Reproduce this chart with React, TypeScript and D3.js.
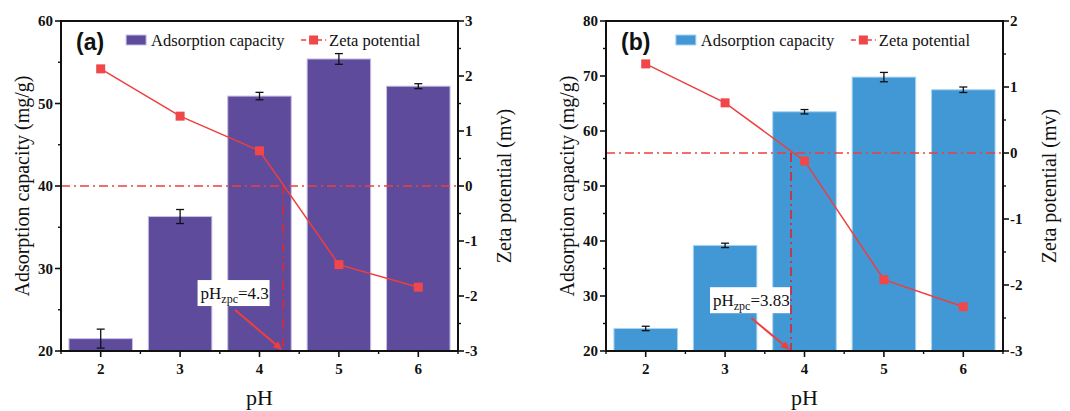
import React from "react";
import * as d3 from "d3";

// ---------- data ----------
const pHValues = [2, 3, 4, 5, 6];
const xTickLabels = ["2", "3", "4", "5", "6"];

const capacityA = [21.5, 36.3, 50.9, 55.4, 52.1];
const capacityErrA = [1.15, 0.85, 0.45, 0.65, 0.3];
const zetaA = [2.13, 1.27, 0.64, -1.43, -1.84];
const pHzpcA = 4.3;
const leftTicksA = [20, 30, 40, 50, 60];
const rightTicksA = [-3, -2, -1, 0, 1, 2, 3];

const capacityB = [24.1, 39.2, 63.5, 69.8, 67.5];
const capacityErrB = [0.4, 0.4, 0.4, 0.85, 0.5];
const zetaB = [1.35, 0.76, -0.12, -1.92, -2.33];
const pHzpcB = 3.83;
const leftTicksB = [20, 30, 40, 50, 60, 70, 80];
const rightTicksB = [-3, -2, -1, 0, 1, 2];

const legendBar = "Adsorption capacity";
const legendLine = "Zeta potential";
const yLeftTitle = "Adsorption capacity (mg/g)";
const yRightTitle = "Zeta potential (mv)";
const xTitle = "pH";

const SERIF = "'Liberation Serif', 'Times New Roman', serif";
const SANS = "'Liberation Sans', Arial, sans-serif";
const RED = "#ee3e3e";
const MARKER = "#f0474a";

interface PanelProps {
  x0: number;
  label: string;
  capacity: number[];
  err: number[];
  zeta: number[];
  pHzpc: number;
  leftTicks: number[];
  rightTicks: number[];
  barColor: string;
  barStroke: string;
  boxAt: [number, number];
  arrowFrom: [number, number];
  legendX: number;
  zpcLabel: string;
  boxW: number;
}

function Panel(p: PanelProps) {
  const left = p.x0;
  const width = 397;
  const top = 21;
  const bottom = 351;
  const right = left + width;
  const x = d3.scaleLinear().domain([1.5, 6.5]).range([left, right]);
  const yl = d3
    .scaleLinear()
    .domain([p.leftTicks[0], p.leftTicks[p.leftTicks.length - 1]])
    .range([bottom, top]);
  const yr = d3
    .scaleLinear()
    .domain([p.rightTicks[0], p.rightTicks[p.rightTicks.length - 1]])
    .range([bottom, top]);

  const leftMinor = d3.range(p.leftTicks[0] + 5, p.leftTicks[p.leftTicks.length - 1], 10);
  const rightMinor = d3.range(p.rightTicks[0] + 0.5, p.rightTicks[p.rightTicks.length - 1], 1);
  const xMinor = d3.range(1.5, 6.6, 1);

  const line = d3
    .line<number>()
    .x((_, i) => x(pHValues[i]))
    .y((d) => yr(d));

  const barW = x(0.8) - x(0);
  const yBase = yl.domain()[0];
  const ms = 9;

  const boxX = x(p.boxAt[0]);
  const boxY = yl(p.boxAt[1]);
  const ax1 = x(p.arrowFrom[0]);
  const ay1 = yl(p.arrowFrom[1]);
  const ax2 = x(p.pHzpc) - 1;
  const ay2 = bottom - 1;
  const ang = Math.atan2(ay2 - ay1, ax2 - ax1);
  const ah = 9;
  const aw = 4;
  const headPts = [
    [ax2, ay2],
    [ax2 - ah * Math.cos(ang) + aw * Math.sin(ang), ay2 - ah * Math.sin(ang) - aw * Math.cos(ang)],
    [ax2 - ah * Math.cos(ang) - aw * Math.sin(ang), ay2 - ah * Math.sin(ang) + aw * Math.cos(ang)],
  ]
    .map((q) => q.join(","))
    .join(" ");

  const lx = x(p.legendX);
  const ly = 40;

  return (
    <g>
      {pHValues.map((ph, i) => (
        <rect
          key={"b" + i}
          x={x(ph) - barW / 2}
          y={yl(p.capacity[i])}
          width={barW}
          height={yl(yBase) - yl(p.capacity[i])}
          fill={p.barColor}
          stroke={p.barStroke}
          strokeWidth={1}
        />
      ))}
      {pHValues.map((ph, i) => {
        const cx = x(ph);
        const y1 = yl(p.capacity[i] + p.err[i]);
        const y2 = yl(p.capacity[i] - p.err[i]);
        return (
          <g key={"e" + i} stroke="#111" strokeWidth={1.3}>
            <line x1={cx} x2={cx} y1={y1} y2={y2} />
            <line x1={cx - 4} x2={cx + 4} y1={y1} y2={y1} />
            <line x1={cx - 4} x2={cx + 4} y1={y2} y2={y2} />
          </g>
        );
      })}
      <line
        x1={left}
        x2={right}
        y1={yr(0)}
        y2={yr(0)}
        stroke={RED}
        strokeWidth={1.6}
        strokeDasharray="9 4 2 4"
      />
      <line
        x1={x(p.pHzpc)}
        x2={x(p.pHzpc)}
        y1={yr(0)}
        y2={bottom}
        stroke="#d8283a"
        strokeWidth={1.7}
        strokeDasharray="9 4 2 4"
      />
      <path d={line(p.zeta) || ""} fill="none" stroke={RED} strokeWidth={1.5} />
      {p.zeta.map((z, i) => (
        <rect
          key={"m" + i}
          x={x(pHValues[i]) - ms / 2}
          y={yr(z) - ms / 2}
          width={ms}
          height={ms}
          fill={MARKER}
        />
      ))}
      <rect x={boxX} y={boxY} width={p.boxW} height={26} fill="#fff" />
      <text x={boxX + 3} y={boxY + 19} fontFamily={SERIF} fontSize={17} fill="#111">
        pH
        <tspan fontSize={12} dy={4}>zpc</tspan>
        <tspan dy={-4}>={p.zpcLabel}</tspan>
      </text>
      <line
        x1={ax1}
        y1={ay1}
        x2={ax2 - 6 * Math.cos(ang)}
        y2={ay2 - 6 * Math.sin(ang)}
        stroke={RED}
        strokeWidth={2}
      />
      <polygon points={headPts} fill={RED} />
      <rect x={left} y={top} width={width} height={bottom - top} fill="none" stroke="#111" strokeWidth={2} />
      {p.leftTicks.map((t) => (
        <g key={"lt" + t}>
          <line x1={left - 6} x2={left} y1={yl(t)} y2={yl(t)} stroke="#111" strokeWidth={1.6} />
          <text
            x={left - 8}
            y={yl(t)}
            dy="0.35em"
            textAnchor="end"
            fontFamily={SERIF}
            fontWeight="bold"
            fontSize={15}
            fill="#111"
          >
            {t}
          </text>
        </g>
      ))}
      {leftMinor.map((t) => (
        <line key={"lm" + t} x1={left - 3} x2={left} y1={yl(t)} y2={yl(t)} stroke="#111" strokeWidth={1.4} />
      ))}
      {p.rightTicks.map((t) => (
        <g key={"rt" + t}>
          <line x1={right} x2={right + 6} y1={yr(t)} y2={yr(t)} stroke="#111" strokeWidth={1.6} />
          <text
            x={right + 7}
            y={yr(t)}
            dy="0.35em"
            textAnchor="start"
            fontFamily={SERIF}
            fontWeight="bold"
            fontSize={15}
            fill="#111"
          >
            {t}
          </text>
        </g>
      ))}
      {rightMinor.map((t) => (
        <line key={"rm" + t} x1={right} x2={right + 3} y1={yr(t)} y2={yr(t)} stroke="#111" strokeWidth={1.4} />
      ))}
      {pHValues.map((ph, i) => (
        <g key={"xt" + ph}>
          <line x1={x(ph)} x2={x(ph)} y1={bottom} y2={bottom + 6} stroke="#111" strokeWidth={1.6} />
          <text
            x={x(ph)}
            y={bottom + 23}
            textAnchor="middle"
            fontFamily={SERIF}
            fontWeight="bold"
            fontSize={15}
            fill="#111"
          >
            {xTickLabels[i]}
          </text>
        </g>
      ))}
      {xMinor.map((t) => (
        <line key={"xm" + t} x1={x(t)} x2={x(t)} y1={bottom} y2={bottom + 3} stroke="#111" strokeWidth={1.4} />
      ))}
      <text
        transform={`translate(${left - 32},${(top + bottom) / 2}) rotate(-90)`}
        textAnchor="middle"
        fontFamily={SERIF}
        fontSize={20}
        fill="#111"
      >
        {yLeftTitle}
      </text>
      <text
        transform={`translate(${right + 53},${(top + bottom) / 2}) rotate(-90)`}
        textAnchor="middle"
        fontFamily={SERIF}
        fontSize={20}
        fill="#111"
      >
        {yRightTitle}
      </text>
      <text x={(left + right) / 2} y={405} textAnchor="middle" fontFamily={SERIF} fontSize={22} fill="#111">
        {xTitle}
      </text>
      <text x={left + 15} y={50} fontFamily={SANS} fontWeight="bold" fontSize={23} fill="#111">
        {p.label}
      </text>
      <rect x={lx} y={ly - 5} width={20} height={10} fill={p.barColor} stroke={p.barStroke} strokeWidth={1} />
      <text x={lx + 25} y={ly} dy="0.35em" fontFamily={SERIF} fontSize={16.5} fill="#111">
        {legendBar}
      </text>
      <line x1={lx + 175} x2={lx + 200} y1={ly} y2={ly} stroke={RED} strokeWidth={1.5} strokeDasharray="5 3" />
      <rect x={lx + 187.5 - 4.5} y={ly - 4.5} width={9} height={9} fill={MARKER} />
      <text x={lx + 203} y={ly} dy="0.35em" fontFamily={SERIF} fontSize={16.5} fill="#111">
        {legendLine}
      </text>
    </g>
  );
}

export default function App() {
  return (
    <svg
      width={1070}
      height={411}
      style={{ position: "absolute", left: 0, top: 0, background: "#fff" }}
    >
      <rect x={0} y={0} width={1070} height={411} fill="#fff" />
      <Panel
        x0={61}
        label="(a)"
        capacity={capacityA}
        err={capacityErrA}
        zeta={zetaA}
        pHzpc={pHzpcA}
        leftTicks={leftTicksA}
        rightTicks={rightTicksA}
        barColor="#5f4b9c"
        barStroke="#c9bfe6"
        boxAt={[3.22, 28.6]}
        arrowFrom={[3.69, 25.0]}
        legendX={2.32}
        zpcLabel="4.3"
        boxW={72}
      />
      <Panel
        x0={606}
        label="(b)"
        capacity={capacityB}
        err={capacityErrB}
        zeta={zetaB}
        pHzpc={pHzpcB}
        leftTicks={leftTicksB}
        rightTicks={rightTicksB}
        barColor="#4298d5"
        barStroke="#a8d3f2"
        boxAt={[2.81, 31.6]}
        arrowFrom={[3.33, 26.0]}
        legendX={2.38}
        zpcLabel="3.83"
        boxW={80}
      />
    </svg>
  );
}
